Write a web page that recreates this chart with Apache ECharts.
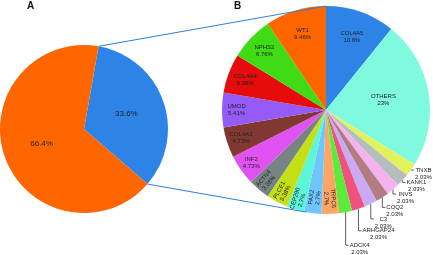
<!DOCTYPE html>
<html>
<head>
<meta charset="utf-8">
<script src="https://cdn.jsdelivr.net/npm/echarts@6/dist/echarts.min.js"></script>
<style>
html,body{margin:0;padding:0;background:#fff;}
#chart{width:433px;height:255px;}
</style>
</head>
<body>
<div id="chart"></div>
<script>
// panel A
var aNames = ['genes in B', 'rest'];
var aValues = [33.6, 66.4];
var aColors = ['#2D84E6', '#FF6600'];

// panel B
var bNames = ['COL4A5','OTHERS','TNXB','KANK1','INVS','COQ2','C3','ARHGAP24','ADCK4','TRPC6',
	'PAX2','CEP290','PLCE1','ACTN4','INF2','COL4A3','UMOD','COL4A4','NPHS2','WT1'];
var bValues = [10.8,23,2.03,2.03,2.03,2.03,2.03,2.03,2.03,2.7,
	2.7,2.7,3.38,3.38,4.73,4.73,5.41,6.08,6.76,9.46];
var bColors = ['#2D84E6','#80FADF','#E2F25C','#B5BDBD','#F5B2F0','#B27C82','#C8AAF5','#F0527F','#5CEB3A','#FFA566',
	'#6FC6FF','#5CF5D8','#C4E014','#788383','#E052F2','#823832','#955BF8','#E60C0C','#3FDC15','#FF6600'];

// layout: where the labels of B sit
var rotated = ['TRPC6','PAX2','CEP290','PLCE1','ACTN4'];
var insideDist = {COL4A5:0.75, OTHERS:0.56, WT1:0.77, NPHS2:0.82, COL4A4:0.83, UMOD:0.86, COL4A3:0.86, INF2:0.88,
	ACTN4:0.89, PLCE1:0.89, CEP290:0.9, PAX2:0.85, TRPC6:0.85};
var leaderDrop = {TNXB:0, KANK1:2, INVS:4.5, COQ2:10, C3:15, ARHGAP24:22, ADCK4:33};

var cxA = 84, cyA = 129, rA = 84, startA = 80;
var cxB = 326, cyB = 110, rB = 104;
var linkEndB = 191; //度, 顺时针从顶部

var font = 'Liberation Sans, Arial, sans-serif';
var chart = echarts.init(document.getElementById('chart'));

function sum(arr){
	var s = 0;
	for (var i = 0; i < arr.length; i++) s += arr[i];
	return s;
}
//中间角度(弧度), 顺时针从顶部
function midAngleB(idx){
	var s = 0;
	for (var i = 0; i < idx; i++) s += bValues[i];
	return (s + bValues[idx] / 2) / sum(bValues) * 2 * Math.PI;
}
function edgePt(cx, cy, r, deg){
	var a = deg * Math.PI / 180;
	return [cx + r * Math.sin(a), cy - r * Math.cos(a)];
}

var aData = [];
for (var i = 0; i < aNames.length; i++) {
	aData.push({name: aNames[i], value: aValues[i], itemStyle: {color: aColors[i]}});
}
var bData = [];
for (var i = 0; i < bNames.length; i++) {
	var item = {name: bNames[i], value: bValues[i], itemStyle: {color: bColors[i]}};
	if (leaderDrop[bNames[i]] != null) {
		item.label = {position: 'outside'};
		item.labelLine = {show: true};
	} else if (rotated.indexOf(bNames[i]) >= 0) {
		item.label = {rotate: 'radial'};
	}
	bData.push(item);
}

var blueStart = 90 - startA;
var blueEnd = blueStart + aValues[0] / sum(aValues) * 360;
var p1 = edgePt(cxA, cyA, rA, blueStart), q1 = edgePt(cxB, cyB, rB, 0);
var p2 = edgePt(cxA, cyA, rA, blueEnd), q2 = edgePt(cxB, cyB, rB, linkEndB);

var option = {
	animation: false,
	graphic: [
		{type: 'line', z: 10, shape: {x1: p1[0], y1: p1[1], x2: q1[0], y2: q1[1]}, style: {stroke: '#2D7FDA', lineWidth: 1}},
		{type: 'line', z: 10, shape: {x1: p2[0], y1: p2[1], x2: q2[0], y2: q2[1]}, style: {stroke: '#2D7FDA', lineWidth: 1}},
		{type: 'text', left: 27, top: 1, style: {text: 'A', font: 'bold 10px ' + font, fill: '#111'}},
		{type: 'text', left: 234, top: 1, style: {text: 'B', font: 'bold 10px ' + font, fill: '#111'}}
	],
	series: [{
		name: 'A',
		type: 'pie',
		center: [cxA, cyA],
		radius: rA,
		startAngle: startA,
		avoidLabelOverlap: false,
		emphasis: {disabled: true},
		itemStyle: {borderWidth: 0},
		label: {
			position: 'inside',
			formatter: '{c}%',
			color: '#222',
			fontSize: 8,
			fontFamily: font
		},
		labelLine: {show: false},
		data: aData
	}, {
		name: 'B',
		type: 'pie',
		center: [cxB, cyB],
		radius: rB,
		startAngle: 90,
		avoidLabelOverlap: false,
		emphasis: {disabled: true},
		itemStyle: {borderWidth: 0},
		label: {
			position: 'inside',
			formatter: '{b}\n{c}%',
			color: '#222',
			fontSize: 6,
			lineHeight: 7,
			fontFamily: font
		},
		labelLine: {show: false, lineStyle: {color: '#333', width: 0.8}},
		labelLayout: function(p){
			var name = bNames[p.dataIndex];
			if (name == null) return {};
			var a = midAngleB(p.dataIndex);
			var sx = Math.sin(a), sy = -Math.cos(a);
			if (leaderDrop[name] != null) {
				var ex = cxB + rB * sx, ey = cyB + rB * sy;
				var ly = ey + leaderDrop[name];
				var lx = ex + 3;
				return {
					x: lx + 1 + p.labelRect.width / 2,
					y: ly - 3.5,
					align: 'center',
					verticalAlign: 'top',
					labelLinePoints: [[ex, ey], [ex, ly], [lx, ly]]
				};
			}
			var k = insideDist[name] || 0.82;
			return {x: cxB + k * rB * sx, y: cyB + k * rB * sy};
		},
		data: bData
	}]
};
chart.setOption(option);
</script>
</body>
</html>
